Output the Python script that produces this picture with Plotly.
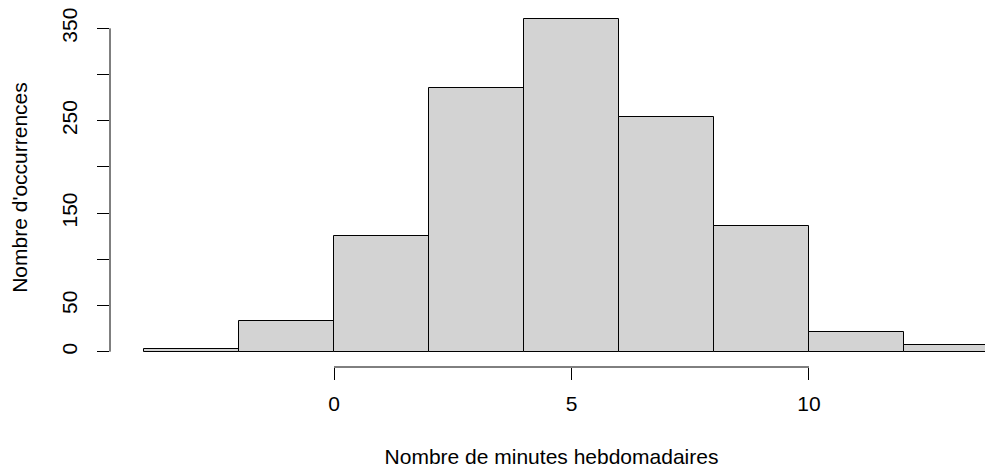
import plotly.graph_objects as go

bin_left = [-4, -2, 0, 2, 4, 6, 8, 10, 12]
bin_width = 2
counts = [3, 33, 125, 285, 360, 254, 136, 21, 7]
x_ticks = [0, 5, 10]
y_ticks = [0, 50, 100, 150, 200, 250, 300, 350]
y_tick_text = ["0", "50", "", "150", "", "250", "", "350"]

centers = [b + bin_width / 2 for b in bin_left]

fig = go.Figure()
fig.add_trace(go.Bar(
    x=centers, y=counts, width=[bin_width] * len(counts),
    marker=dict(color="#D3D3D3", line=dict(color="#000000", width=1)),
    hoverinfo="skip",
))

# page body has an 8px margin; figure sized to fill remaining window
W, H = 985, 460
ml, mr, mt, mb = 102, 0, 0, 101
fig.update_layout(
    width=W, height=H,
    margin=dict(l=ml, r=mr, t=mt, b=mb, pad=0),
    paper_bgcolor="white", plot_bgcolor="white",
    showlegend=False,
    font=dict(family="Liberation Sans, Arial, sans-serif", size=21, color="#000000"),
    xaxis=dict(
        range=[-4.716, 13.874], tickmode="array", tickvals=x_ticks,
        ticks="outside", ticklen=12, tickwidth=1, tickcolor="#000000",
        ticklabelstandoff=6,
        showgrid=False, zeroline=False, showline=False,
        title=dict(text="Nombre de minutes hebdomadaires", standoff=39,
                   font=dict(size=21)),
    ),
    yaxis=dict(
        range=[-16.56, 372.0], tickmode="array", tickvals=y_ticks, ticktext=y_tick_text,
        ticks="outside", ticklen=12, tickwidth=1, tickcolor="#000000",
        tickangle=-90, ticklabelstandoff=12, ticklabeloverflow="allow",
        showgrid=False, zeroline=False, showline=False,
        title=dict(text="Nombre d'occurrences", standoff=29, font=dict(size=21)),
    ),
    bargap=0,
)

fig.add_shape(type="line", xref="paper", yref="y", x0=0, x1=0, y0=y_ticks[0], y1=y_ticks[-1],
              line=dict(color="#000000", width=1))
fig.add_shape(type="line", xref="x", yref="paper", x0=x_ticks[0], x1=x_ticks[-1], y0=0, y1=0,
              line=dict(color="#000000", width=1))

fig.write_html("out.html")
